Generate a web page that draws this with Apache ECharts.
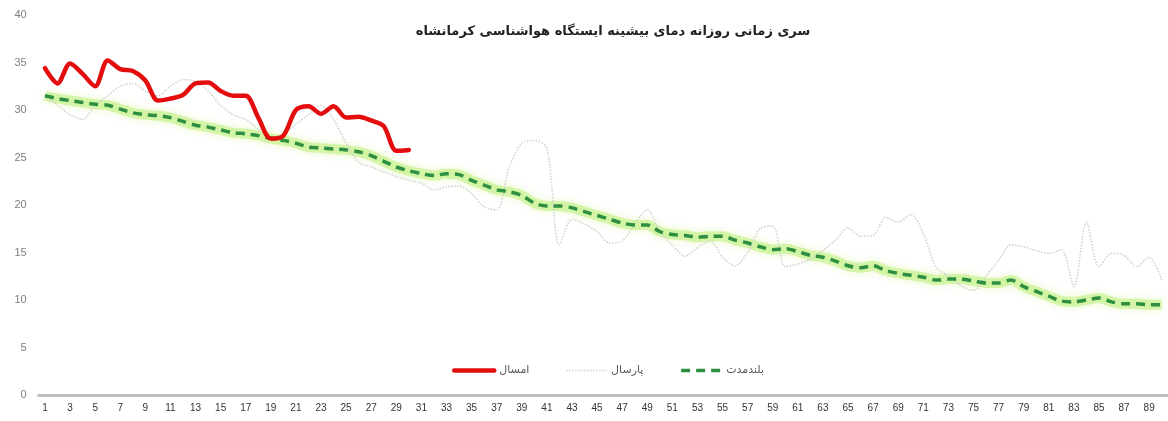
<!DOCTYPE html>
<html><head><meta charset="utf-8">
<script src="https://cdn.jsdelivr.net/npm/echarts@6/dist/echarts.min.js"></script>
<style>html,body{margin:0;padding:0;background:#fff;}#c{width:1168px;height:421px;}</style>
</head><body><div id="c"></div>
<script>
const titleText = 'سری زمانی روزانه دمای بیشینه ایستگاه هواشناسی کرمانشاه';
const seriesNames = ['امسال', 'پارسال', 'بلندمدت'];
const days = Array.from({length: 90}, (_, i) => String(i + 1));
const yTicks = [0, 5, 10, 15, 20, 25, 30, 35, 40];

// this year (days 1-30)
const thisYear = [34.4, 32.8, 34.9, 33.8, 32.5, 35.2, 34.3, 34.1, 33.1, 31.0,
  31.2, 31.6, 32.8, 32.9, 32.0, 31.5, 31.5, 29.2, 27.0, 27.3,
  30.0, 30.4, 29.6, 30.4, 29.2, 29.3, 28.9, 28.3, 25.7, 25.8];

// last year
const lastYear = [31.5, 30.5, 29.5, 29.0, 30.5, 31.5, 32.5, 32.8, 32.0, 31.5,
  32.5, 33.2, 33.0, 32.0, 30.5, 29.5, 29.0, 28.0, 27.0, 27.5,
  28.5, 29.5, 30.5, 29.0, 26.5, 24.5, 24.0, 23.5, 23.0, 22.6,
  22.3, 21.6, 21.9, 22.0, 21.2, 19.8, 19.5, 24.0, 26.5, 26.8,
  26.0, 15.8, 18.5, 18.0, 17.2, 16.0, 16.2, 18.0, 19.5, 17.2,
  15.8, 14.6, 15.5, 16.2, 14.5, 13.6, 15.0, 17.5, 17.8, 13.5,
  13.8, 14.3, 15.2, 16.3, 17.6, 16.7, 16.8, 18.7, 18.2, 19.0,
  17.0, 13.5, 12.5, 11.5, 11.0, 12.5, 14.2, 15.8, 15.6, 15.2,
  14.9, 15.3, 11.4, 18.2, 13.5, 14.9, 14.7, 13.5, 14.5, 12.1];

// long-term mean
const longTerm = [31.5, 31.2, 31.0, 30.8, 30.6, 30.5, 30.1, 29.7, 29.5, 29.4,
  29.2, 28.8, 28.4, 28.2, 27.9, 27.6, 27.5, 27.3, 27.0, 26.8,
  26.5, 26.1, 26.0, 25.9, 25.8, 25.6, 25.2, 24.6, 24.0, 23.6,
  23.3, 23.1, 23.3, 23.2, 22.6, 22.1, 21.6, 21.4, 21.0, 20.2,
  19.9, 19.9, 19.7, 19.3, 18.9, 18.5, 18.1, 17.9, 17.9, 17.2,
  16.9, 16.8, 16.6, 16.7, 16.7, 16.3, 16.0, 15.6, 15.3, 15.4,
  15.1, 14.7, 14.5, 14.1, 13.6, 13.4, 13.6, 13.1, 12.8, 12.6,
  12.4, 12.1, 12.2, 12.2, 12.0, 11.8, 11.8, 12.1, 11.4, 10.9,
  10.4, 9.9, 9.8, 10.0, 10.2, 9.8, 9.6, 9.6, 9.5, 9.5];

const chart = echarts.init(document.getElementById('c'), null, {renderer: 'canvas'});
const FONT = 'DejaVu Sans';
chart.setOption({
  animation: false,
  backgroundColor: '#ffffff',
  title: {
    text: titleText, left: 608, top: 20, textAlign: 'center',
    textStyle: {fontFamily: FONT, fontSize: 13, fontWeight: 'bold', color: '#222'}
  },
  legend: {
    data: seriesNames,
    left: 447, top: 360, itemWidth: 40, itemHeight: 8, itemGap: 36,
    itemStyle: {opacity: 0},
    lineStyle: {width: 'inherit'},
    textStyle: {fontFamily: FONT, fontSize: 11, color: '#595959'}
  },
  grid: {left: 38.7, top: 15, width: 1137.3, bottom: 26, containLabel: false},
  xAxis: {
    type: 'category', data: days, boundaryGap: true,
    axisLine: {show: true, lineStyle: {color: '#bfbfbf', width: 3}},
    axisTick: {show: false},
    axisLabel: {interval: 1, fontFamily: 'Liberation Sans', fontSize: 10, color: '#333', margin: 8},
    splitLine: {show: false}
  },
  yAxis: {
    type: 'value', min: yTicks[0], max: yTicks[yTicks.length - 1], interval: 5,
    axisLine: {show: false}, axisTick: {show: false},
    axisLabel: {fontFamily: 'Liberation Sans', fontSize: 11, color: '#7f7f7f', margin: 12},
    splitLine: {show: false}
  },
  series: [
    {
      name: 'glow', type: 'line', data: longTerm, smooth: 0.3, symbol: 'none', silent: true,
      lineStyle: {color: 'rgba(185,240,120,0.55)', width: 10, shadowBlur: 8, shadowColor: 'rgba(215,240,150,0.9)'},
      z: 1
    },
    {
      name: seriesNames[1], type: 'line', data: lastYear, smooth: 0.3, symbol: 'none',
      lineStyle: {color: '#cfcfcf', width: 1.5, type: 'dotted'}, itemStyle: {color: '#cfcfcf'}, z: 2
    },
    {
      name: seriesNames[2], type: 'line', data: longTerm, smooth: 0.3, symbol: 'none',
      lineStyle: {color: '#2e8f42', width: 3.5, type: [9, 6]}, itemStyle: {color: '#2e8f42'}, z: 3
    },
    {
      name: seriesNames[0], type: 'line', data: thisYear, smooth: 0.3, symbol: 'none',
      lineStyle: {color: '#e30d0d', width: 4.5, cap: 'round', join: 'round'}, itemStyle: {color: '#e30d0d'}, z: 4
    }
  ]
});
</script></body></html>
